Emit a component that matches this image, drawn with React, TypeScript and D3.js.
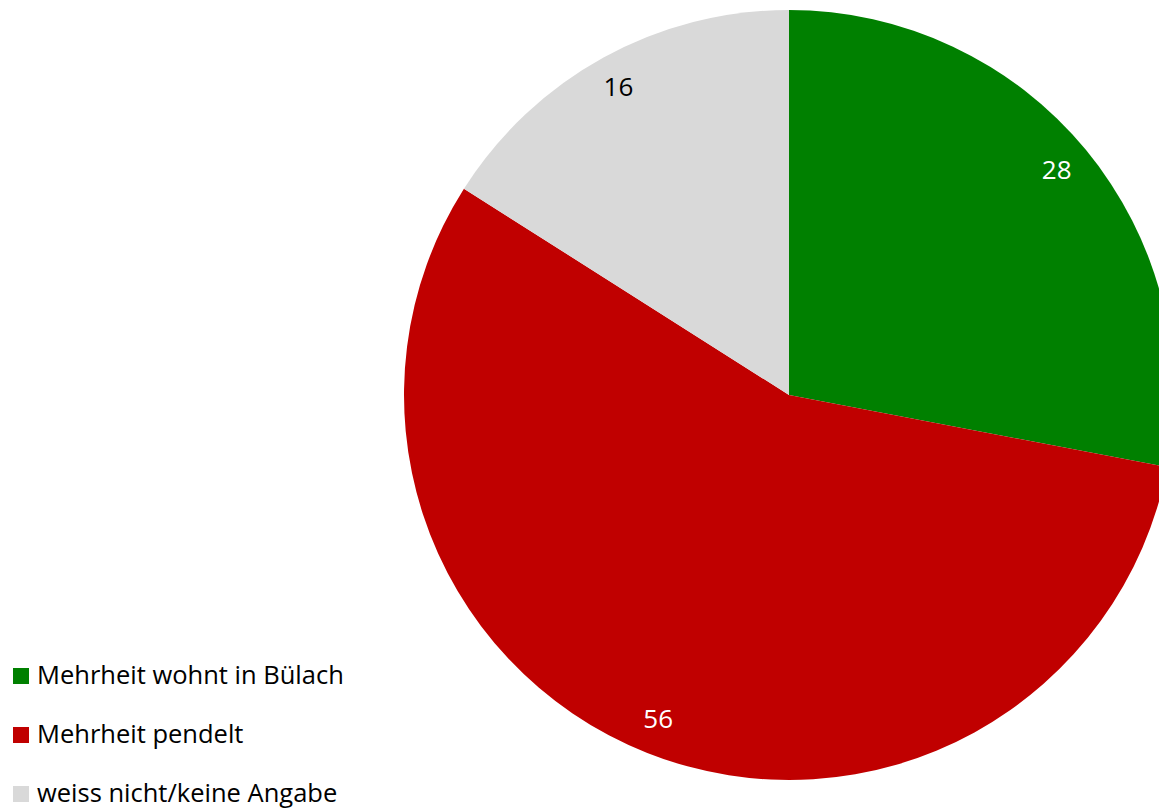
import React from "react";
import * as d3 from "d3";

const categories = ["Mehrheit wohnt in Bülach", "Mehrheit pendelt", "weiss nicht/keine Angabe"];
const values = [28, 56, 16];
const colors = ["#008000", "#C00000", "#D9D9D9"];
const labelColors = ["#FFFFFF", "#FFFFFF", "#000000"];

const W = 1159;
const H = 809;
const cx = 789;
const cy = 395;
const R = 385;

export default function App() {
  const pie = d3.pie<number>().sort(null).value((d) => d);
  const arcs = pie(values);
  const arc = d3.arc<d3.PieArcDatum<number>>().innerRadius(0).outerRadius(R);
  const labelArc = d3.arc<d3.PieArcDatum<number>>().innerRadius(350 * 2 - R).outerRadius(R);
  const font = "'Open Sans', sans-serif";
  return (
    <svg width={W} height={H} style={{ position: "absolute", left: 0, top: 0 }}>
      <g transform={`translate(${cx},${cy})`}>
        {arcs.map((a, i) => (
          <path key={i} d={arc(a) || ""} fill={colors[i]} />
        ))}
        {arcs.map((a, i) => {
          const [x, y] = labelArc.centroid(a);
          return (
            <text key={i} x={x - 2} y={y} dy="0.28em" textAnchor="middle" fontFamily={font} fontSize={26} fill={labelColors[i]}>
              {values[i]}
            </text>
          );
        })}
      </g>
      {categories.map((c, i) => (
        <g key={c} transform={`translate(13,${668 + i * 59})`}>
          <rect x={0} y={0} width={16} height={16} fill={colors[i]} />
          <text x={24} y={16} fontFamily={font} fontSize={25.5} fill="#000">
            {c}
          </text>
        </g>
      ))}
    </svg>
  );
}
